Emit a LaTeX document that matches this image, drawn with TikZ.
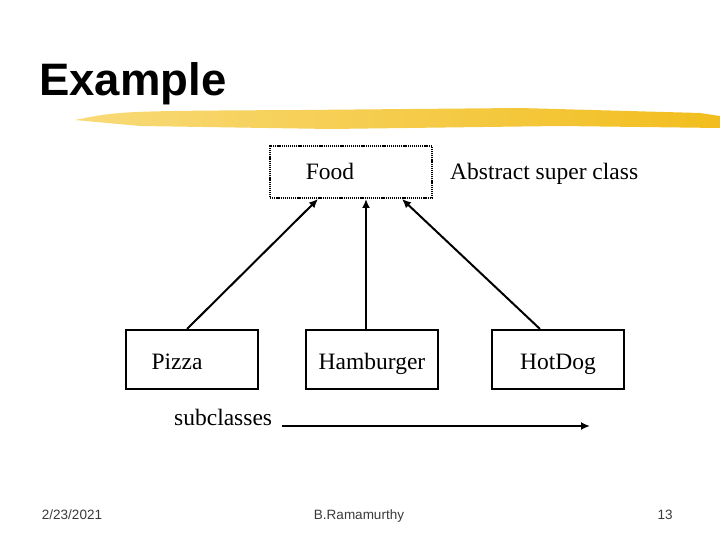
\documentclass[tikz,border=0pt]{standalone}
\usepackage{fontspec}
\setmainfont{Liberation Serif}
\newfontfamily\slidesans{Liberation Sans}
\usetikzlibrary{arrows.meta,positioning}
\definecolor{slideink}{HTML}{000000}
\definecolor{brushgold}{HTML}{F2BE1E}
\definecolor{brushlight}{HTML}{F8DA78}
\definecolor{footgray}{HTML}{3A3A3A}

\tikzset{
  classbox/.style={draw=slideink,line width=2pt,minimum width=132pt,minimum height=59pt,inner sep=0pt,text height=21pt,text depth=2pt},
  arr/.style={line width=2pt,-{Latex[length=9pt,width=8pt]}},
  foot/.style={anchor=base,font=\slidesans\fontsize{13.5}{15}\selectfont,text=footgray}
}

\begin{document}
\begin{tikzpicture}[x=1pt,y=-1pt,font=\fontsize{23.5}{27}\selectfont]
        \useasboundingbox (0,0) rectangle (720,540);
        \node[anchor=base west,inner sep=0pt,font=\slidesans\bfseries\fontsize{45.5}{50}\selectfont] (title) at (39,96) {Example};
        % brush stroke under the title
        \shade[left color=brushlight,right color=brushgold]
          (75,120) .. controls (120,111) .. (300,110) -- (520,108) -- (700,113) -- (720,116)
          -- (720,128) -- (560,126) -- (330,129) -- (140,126) -- cycle;

        \node[draw=slideink,line width=2pt,dash pattern=on 1.2pt off 0.9pt,minimum width=162pt,minimum height=52pt,inner sep=0pt,text height=16pt,text depth=0pt] (food) at (351,172) {\hspace*{-42pt}Food};
        \node[anchor=base west,inner sep=0pt] (abs) at (450,180) {Abstract super class};

        \node[classbox] (pizza) at (192,359.5) {\hspace*{-30pt}Pizza};
        \node[classbox] (burger) at (372,359.5) {Hamburger};
        \node[classbox] (hotdog) at (558,359.5) {HotDog};

        \draw[arr] ([xshift=-5pt]pizza.north) -- ([xshift=-33pt]food.south);
        \draw[arr] ([xshift=-6pt]burger.north) -- ([xshift=15pt]food.south);
        \draw[arr] ([xshift=-18pt]hotdog.north) -- ([xshift=51pt]food.south);

        \node[anchor=base west,inner sep=0pt] (sub) at (174,425) {subclasses};
        \coordinate (subend) at (590,426);
        \draw[arr] (sub.east |- subend) ++(10,0) coordinate (substart) -- (subend);

        \node[foot] (date) at (72,519) {2/23/2021};
        \node[foot] (author) at (359,519) {B.Ramamurthy};
        \node[foot] (page) at (665,519) {13};
      \end{tikzpicture}
\end{document}
